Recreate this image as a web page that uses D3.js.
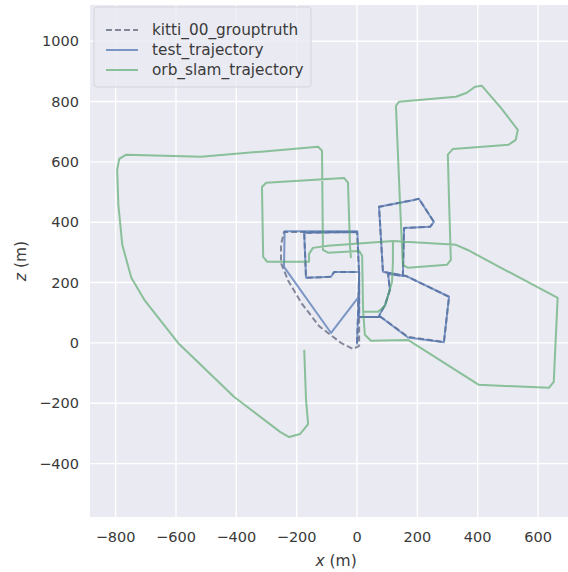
<!DOCTYPE html>
<html>
<head>
<meta charset="utf-8">
<title>trajectory</title>
<script src="https://d3js.org/d3.v7.min.js"></script>
<style>
  body { margin: 0; background: #fff; overflow: hidden; }
  text { font-family: "DejaVu Sans", sans-serif; fill: #3a3a3a; }
  .grid line { stroke: #fff; stroke-width: 1.4px; }
</style>
</head>
<body>
<div id="chart"></div>
<script>
// axis limits and ticks (metres)
const xLim = [-885, 746];
const zLim = [-577, 1120];
const xTicks = [-800, -600, -400, -200, 0, 200, 400, 600];
const zTicks = [-400, -200, 0, 200, 400, 600, 800, 1000];

const seriesNames = ["kitti_00_grouptruth", "test_trajectory", "orb_slam_trajectory"];

// [x, z] points
const groundTruth = [
  [0,0],[3,86],[7,226],[0,368],[-242,368],[-252,325],[-252,265],[-228,206],[-185,133],
  [-126,56],[-53,0],[-13,-20],[7,-10],[7,86],[79,86],[169,20],[288,3],[305,153],
  [162,222],[86,235],[73,451],[189,474],[205,478],[255,401],[242,385],[156,381],
  [152,222],[103,229],[109,176],[93,126],[76,96],[73,86],[7,86],[7,235],[-76,235],
  [-86,219],[-169,216],[-175,365],[0,368]
];

const testTrajectory = [
  [0,-5],[3,86],[7,226],[1,370],[-240,370],[-242,252],[-86,33],[3,149],[5,86],
  [79,86],[169,18],[288,2],[305,153],[162,222],[86,236],[73,451],[189,474],
  [205,478],[255,401],[242,385],[156,381],[152,222],[103,229],[109,176],[93,126],
  [76,96],[73,86],[7,86],[7,235],[-76,235],[-86,219],[-169,216],[-175,365],[0,368]
];

// null = gap between the pieces of the orb-slam track
const orbSlam = [
  [-175,-23],[-169,-189],[-162,-269],[-189,-302],[-225,-312],[-255,-295],[-407,-179],
  [-593,0],[-705,143],[-748,216],[-778,325],[-791,458],[-795,574],[-788,610],[-765,624],
  [-517,617],[-318,634],[-129,650],[-116,637],[-113,308],[-96,299],[7,305],[17,289],
  [20,109],[26,27],[46,7],[169,10],[404,-139],[636,-149],[652,-129],[665,149],[367,308],
  [328,325],[119,338],[-96,322],[-146,315],[-159,295],[-159,269],[-298,269],[-311,285],
  [-315,517],[-301,531],[-43,547],[-30,531],[-23,315],[-20,282],
  null,
  [119,338],[119,269],[116,202],[93,123],[70,103],[20,103],
  null,
  [169,249],[152,259],[142,474],[129,786],[139,799],[328,816],[364,829],[391,849],
  [414,852],[477,779],[533,706],[526,673],[503,657],[318,643],[301,624],[305,474],
  [311,275],[298,259],[169,249]
];

const width = 568, height = 572;
const mTop = 5, mLeft = 90, plotH = 512;
const pxPerM = plotH / (zLim[1] - zLim[0]);      // equal aspect
const plotW = pxPerM * (xLim[1] - xLim[0]);

const x = d3.scaleLinear().domain(xLim).range([mLeft, mLeft + plotW]);
const y = d3.scaleLinear().domain(zLim).range([mTop + plotH, mTop]);

const svg = d3.select("#chart").append("svg")
  .attr("width", width).attr("height", height);

svg.append("rect")
  .attr("x", mLeft).attr("y", mTop)
  .attr("width", plotW).attr("height", plotH)
  .attr("fill", "#eaeaf2");

const grid = svg.append("g").attr("class", "grid");
grid.selectAll(".vx").data(xTicks).join("line")
  .attr("x1", d => x(d)).attr("x2", d => x(d))
  .attr("y1", mTop).attr("y2", mTop + plotH);
grid.selectAll(".hz").data(zTicks).join("line")
  .attr("y1", d => y(d)).attr("y2", d => y(d))
  .attr("x1", mLeft).attr("x2", mLeft + plotW);

const fmt = d => String(d).replace("-", "\u2212");

// tick labels
svg.append("g").selectAll("text").data(xTicks).join("text")
  .attr("x", d => x(d)).attr("y", mTop + plotH + 25)
  .attr("text-anchor", "middle").style("font-size", "14.5px")
  .text(fmt);
svg.append("g").selectAll("text").data(zTicks).join("text")
  .attr("x", mLeft - 11).attr("y", d => y(d)).attr("dy", "0.35em")
  .attr("text-anchor", "end").style("font-size", "14.5px")
  .text(fmt);

// axis labels
const xl = svg.append("text")
  .attr("x", mLeft + plotW / 2).attr("y", 566)
  .attr("text-anchor", "middle").style("font-size", "15.5px");
xl.append("tspan").style("font-style", "italic").text("x");
xl.append("tspan").text(" (m)");

const zl = svg.append("text")
  .attr("transform", `translate(26,${mTop + plotH / 2}) rotate(-90)`)
  .attr("text-anchor", "middle").style("font-size", "15.5px");
zl.append("tspan").style("font-style", "italic").text("z");
zl.append("tspan").text(" (m)");

// trajectories
const line = d3.line()
  .defined(d => d !== null)
  .x(d => x(d[0])).y(d => y(d[1]));

const styles = [
  { data: groundTruth, color: "#4a5068", opacity: 0.65, dash: "6,3" },
  { data: testTrajectory, color: "#4c72b0", opacity: 0.7, dash: null },
  { data: orbSlam, color: "#55a868", opacity: 0.65, dash: null }
];

const plot = svg.append("g");
styles.forEach(s => {
  plot.append("path")
    .attr("d", line(s.data))
    .attr("fill", "none")
    .attr("stroke", s.color)
    .attr("stroke-opacity", s.opacity)
    .attr("stroke-width", 2)
    .attr("stroke-linejoin", "round")
    .attr("stroke-dasharray", s.dash);
});

// legend
const lg = svg.append("g").attr("transform", "translate(94,7)");
lg.append("rect")
  .attr("width", 217).attr("height", 80).attr("rx", 3)
  .attr("fill", "#eaeaf2").attr("fill-opacity", 0.8)
  .attr("stroke", "#d4d4dc");
seriesNames.forEach((name, i) => {
  const s = styles[i];
  const yy = 23 + i * 20;
  lg.append("line")
    .attr("x1", 12).attr("x2", 44).attr("y1", yy).attr("y2", yy)
    .attr("stroke", s.color).attr("stroke-opacity", s.opacity)
    .attr("stroke-width", 2).attr("stroke-dasharray", s.dash);
  lg.append("text")
    .attr("x", 58).attr("y", yy).attr("dy", "0.35em")
    .style("font-size", "15.3px")
    .text(name);
});
</script>
</body>
</html>
